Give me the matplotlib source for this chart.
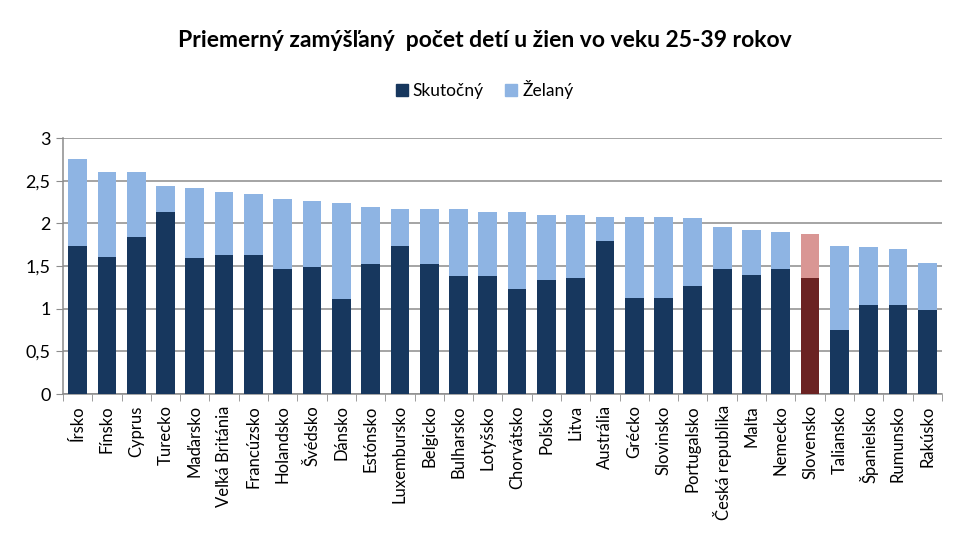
import numpy as np
import matplotlib.pyplot as plt
from matplotlib.patches import Patch

plt.rcParams['font.family'] = ['Lato', 'DejaVu Sans']

# krajiny a hodnoty
countries = ['Írsko', 'Fínsko', 'Cyprus', 'Turecko', 'Maďarsko', 'Veľká Británia',
             'Francúzsko', 'Holandsko', 'Švédsko', 'Dánsko', 'Estónsko', 'Luxembursko',
             'Belgicko', 'Bulharsko', 'Lotyšsko', 'Chorvátsko', 'Poľsko', 'Litva',
             'Austrália', 'Grécko', 'Slovinsko', 'Portugalsko', 'Česká republika',
             'Malta', 'Nemecko', 'Slovensko', 'Taliansko', 'Španielsko', 'Rumunsko',
             'Rakúsko']
actual = [1.74, 1.61, 1.84, 2.13, 1.59, 1.63, 1.63, 1.47, 1.49, 1.11, 1.52, 1.74,
          1.52, 1.38, 1.38, 1.23, 1.34, 1.36, 1.79, 1.13, 1.13, 1.27, 1.47, 1.40,
          1.47, 1.36, 0.75, 1.04, 1.04, 0.98]
desired = [2.76, 2.60, 2.60, 2.44, 2.42, 2.37, 2.35, 2.29, 2.26, 2.24, 2.19, 2.17,
           2.17, 2.17, 2.13, 2.13, 2.10, 2.10, 2.08, 2.08, 2.08, 2.06, 1.96, 1.92,
           1.90, 1.88, 1.74, 1.72, 1.70, 1.54]
highlight = 'Slovensko'

dark = '#17375E'
light = '#8EB4E3'
dark_hl = '#6B2222'
light_hl = '#D99694'

fig = plt.figure(figsize=(9.69, 5.55), dpi=100)
ax = fig.add_axes([0.065, 0.29, 0.907, 0.461])

x = np.arange(len(countries))
extra = np.array(desired) - np.array(actual)
c_dark = [dark_hl if c == highlight else dark for c in countries]
c_light = [light_hl if c == highlight else light for c in countries]
ax.bar(x, actual, width=0.64, color=c_dark, zorder=3)
ax.bar(x, extra, bottom=actual, width=0.64, color=c_light, zorder=3)

ax.set_xlim(-0.5, len(countries) - 0.5)
ax.set_ylim(0, 3)
ax.set_yticks(np.arange(0, 3.01, 0.5))
ax.set_yticklabels(['0', '0,5', '1', '1,5', '2', '2,5', '3'], fontsize=13)
ax.yaxis.grid(True, color='#8c8c8c', linewidth=1.1, zorder=0)
ax.set_axisbelow(True)

ax.set_xticks(x)
ax.set_xticklabels(countries, rotation=90, fontsize=12)
ax.set_xticks(np.arange(-0.5, len(countries)), minor=True)
ax.tick_params(axis='x', which='major', length=0, pad=8)
ax.tick_params(axis='x', which='minor', length=5, color='#8c8c8c')
ax.tick_params(axis='y', length=5, color='#8c8c8c', pad=4)

for s in ['top', 'right']:
    ax.spines[s].set_visible(False)
for s in ['left', 'bottom']:
    ax.spines[s].set_color('#8c8c8c')
    ax.spines[s].set_linewidth(1.1)

fig.text(0.5, 0.927, 'Priemerný zamýšľaný  počet detí u žien vo veku 25-39 rokov',
         ha='center', va='center', fontsize=16.5, fontweight='bold')
handles = [Patch(color=dark, label='Skutočný'), Patch(color=light, label='Želaný')]
fig.legend(handles=handles, loc='center', bbox_to_anchor=(0.5, 0.838), ncol=2,
           frameon=False, fontsize=12.5, handlelength=0.7, handleheight=0.7,
           handletextpad=0.3, columnspacing=1.2)

fig.savefig('out.png', dpi=100)
